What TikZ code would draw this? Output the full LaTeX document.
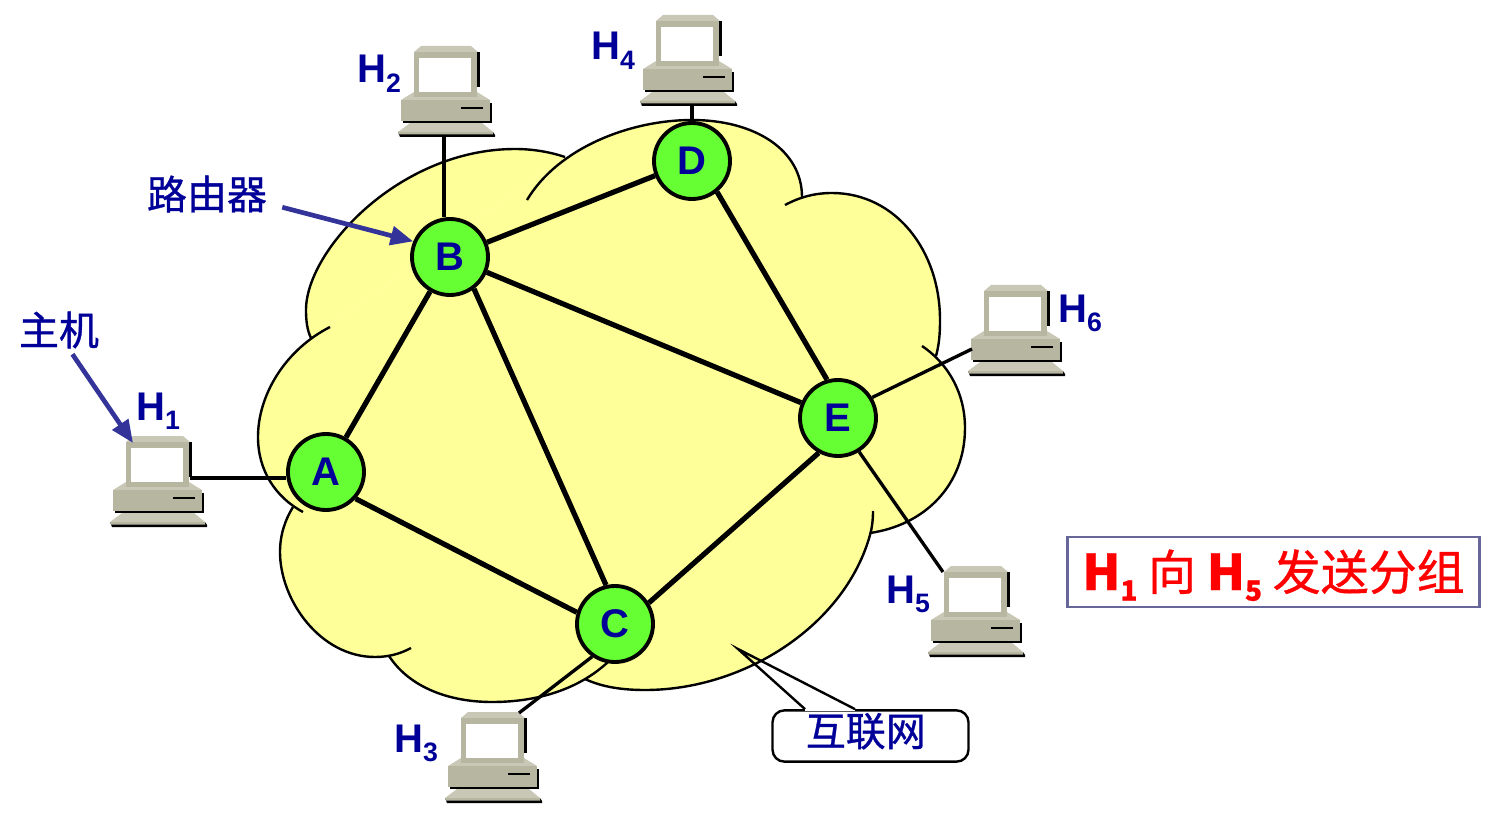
\documentclass[tikz,border=0pt]{standalone}
\usepackage{fontspec}
\setmainfont{Liberation Sans}
\newfontfamily\cjk[FakeBold=0.8]{Noto Sans CJK SC}
\usetikzlibrary{arrows.meta,calc}

\definecolor{cloudfill}{HTML}{FFFF99}
\definecolor{routerfill}{HTML}{66FF33}
\definecolor{labelblue}{HTML}{000099}
\definecolor{arrowblue}{HTML}{333399}
\definecolor{boxedge}{HTML}{666699}
\definecolor{pcbody}{HTML}{B7B6A0}
\definecolor{pclight}{HTML}{C9C8B6}

\newcommand{\hostname}[1]{\fontsize{30}{32}\selectfont\bfseries H\raisebox{-7pt}{\fontsize{20}{20}\selectfont #1}}
\newcommand{\boxhost}[1]{{\fontsize{37}{40}\selectfont\bfseries H\raisebox{-8pt}{\fontsize{21}{24}\selectfont #1}}}

\newcommand{\lobeD}{(527,200) .. controls (558,148) and (630,120) .. (692,120) .. controls (755,120) and (802,150) .. (802,197)}
\newcommand{\lobeNE}{(785,205) .. controls (800,197) and (815,193) .. (832,193) .. controls (895,193) and (940,250) .. (940,320) .. controls (940,335) and (939,345) .. (936,356)}
\newcommand{\lobeE}{(922,346) .. controls (950,365) and (965,395) .. (965,428) .. controls (965,485) and (925,525) .. (870,533)}
\newcommand{\lobeS}{(873,511) .. controls (873,520) and (872,528) .. (870,535) .. controls (845,625) and (745,690) .. (645,690) .. controls (622,690) and (602,687) .. (585,679)}
\newcommand{\lobeSW}{(608,662) .. controls (580,688) and (540,702) .. (492,702) .. controls (450,702) and (410,688) .. (389,656)}
\newcommand{\lobeW}{(293,507) .. controls (285,520) and (280,535) .. (280,552) .. controls (280,600) and (320,657) .. (375,657) .. controls (388,657) and (400,654) .. (411,648)}
\newcommand{\lobeNW}{(330,327) .. controls (285,350) and (258,395) .. (258,437) .. controls (258,470) and (275,497) .. (303,512)}
\newcommand{\lobeB}{(311,338) .. controls (307,330) and (306,320) .. (306,310) .. controls (306,250) and (400,149) .. (515,149) .. controls (533,149) and (550,152) .. (565,157)}

\tikzset{
  router/.style={circle, draw, line width=2.9pt, fill=routerfill, minimum size=57pt, inner sep=0pt,
                 text=labelblue, font=\fontsize{30}{32}\selectfont\bfseries},
  trunk/.style={line width=3.9pt},
  hostlink/.style={line width=2.5pt},
  cloudedge/.style={line width=1.8pt},
  hostlabel/.style={anchor=base west, inner sep=0pt, text=labelblue},
  cjklabel/.style={text=labelblue, font=\cjk\fontsize{30}{32}\selectfont, inner sep=0pt},
  pointer/.style={line width=3.5pt, arrowblue, -{Triangle[length=17pt,width=14pt]}},
  hostpc/.pic={
    \fill[black] (-48,40) -- (47,40) -- (49,43) -- (49,45) -- (-46,45) -- cycle;
    \fill[pclight] (-36,31) -- (36,31) -- (47,40) -- (-48,40) -- cycle;
    \fill[pcbody] (-48,40) -- (47,40) -- (47,42.5) -- (-47,42.5) -- cycle;
    \fill[black] (-43,11) rectangle (46,31);
    \fill[pclight] (-45,8) -- (-32,0) -- (31,0) -- (44,8) -- cycle;
    \fill[pcbody] (-45,8) rectangle (44,29);
    \draw[line width=1.1pt] (15,16) -- (37,16);
    \fill[black] (31,-40) rectangle (33.5,-5);
    \fill[pclight] (-25,-46) -- (25,-46) -- (32,-40) -- (-32,-40) -- cycle;
    \fill[pcbody] (-32,-40) rectangle (31,5);
    \fill[white] (-27,-34) rectangle (25,0);
    \coordinate (-corner) at (-25,-39);
  }
}

\begin{document}
\begin{tikzpicture}[x=0.75pt, y=-0.75pt]
  \useasboundingbox (0,0) rectangle (1497,820);

  % cloud
  \fill[cloudfill] (565,157) -- (802,197) -- (936,356) -- (870,533) -- (585,679) -- (389,656) -- (293,507) -- (311,338) -- cycle;
  \foreach \lobe in {\lobeD,\lobeNE,\lobeE,\lobeS,\lobeSW,\lobeW,\lobeNW,\lobeB} {
    \fill[cloudfill] \lobe -- cycle;
  }
  \foreach \lobe in {\lobeD,\lobeNE,\lobeE,\lobeS,\lobeSW,\lobeW,\lobeNW,\lobeB} {
    \draw[cloudedge] \lobe;
  }

  \foreach \n/\x/\y in {A/326/472,B/450/257,C/615/624,D/692/161,E/838/418} {
    \node[router] (\n) at (\x,\y) {\n};
  }

  \draw[trunk] (A) -- (B);
  \draw[trunk] (A.-42) -- (C.163);
  \draw[trunk] (B.-53) -- (C.103);
  \draw[trunk] (B) -- (D);
  \draw[trunk] (B) -- (E);
  \draw[trunk] (C.32) -- (E.241);
  \draw[trunk] (D.-51) -- (E.106);

  \foreach \n/\x/\y/\px/\py in {H1/158/482/190/478,H2/446/92/444/135,H3/493/758/519/713,
                                H4/688/61/692/105,H5/976/612/943/572,H6/1016/331/972/349} {
    \pic (pc\n) at (\x,\y) {hostpc};
    \coordinate (port\n) at (\px,\py);
  }

  \draw[hostlink] (portH1) -- (portH1 -| A.west);
  \draw[hostlink] (portH2) -- (portH2 |- B.north);
  \draw[hostlink] (portH3) -- (C.235);
  \draw[hostlink] (portH4) -- (D.north);
  \draw[hostlink] (portH5) -- (E.302);
  \draw[hostlink] (portH6) -- (E.31);

  \foreach \n/\x/\y in {1/136/420,2/357/83,3/394/752,4/591/60,5/886/603,6/1058/322} {
    \node[hostlabel] (labelH\n) at (\x,\y) {\hostname{\n}};
  }

  \node[cjklabel, minimum width=112.5pt, minimum height=30pt] (labelRouter) at (207,194) {路由器};
  \node[cjklabel, minimum width=60pt, minimum height=36pt] (labelHost) at (59,330) {主机};
  \draw[pointer] (labelRouter.-10.6) -- (B.157);
  \draw[pointer] (labelHost.-61.6) -- (pcH1-corner);

  % callout
  \node[cjklabel, draw=black, line width=1.8pt, fill=white, rounded corners=9pt,
        minimum width=147pt, minimum height=38.5pt, text height=15pt, text depth=0pt] (netBox) at (870.5,736)
        {互联网\kern7pt};
  \coordinate (netTip) at (738,649);
  \coordinate (tailLeft) at ($(netBox.north)+(-65.5,0)$);
  \coordinate (tailRight) at ($(netBox.north)+(-15.5,0)$);
  \draw[white, line width=2.4pt] (tailLeft) -- (tailRight);
  \draw[line width=1.8pt] (tailLeft) -- (netTip) -- (tailRight);

  \node[draw=boxedge, line width=1.6pt, text=red, minimum width=309pt, minimum height=53pt, inner sep=0pt,
        text height=27pt, text depth=0pt, font=\cjk\fontsize{36}{40}\selectfont] (noteBox) at (1273.5,572)
        {\boxhost{1}\hspace{8pt}向\hspace{8pt}\boxhost{5}\hspace{8pt}发送分组};
\end{tikzpicture}
\end{document}
